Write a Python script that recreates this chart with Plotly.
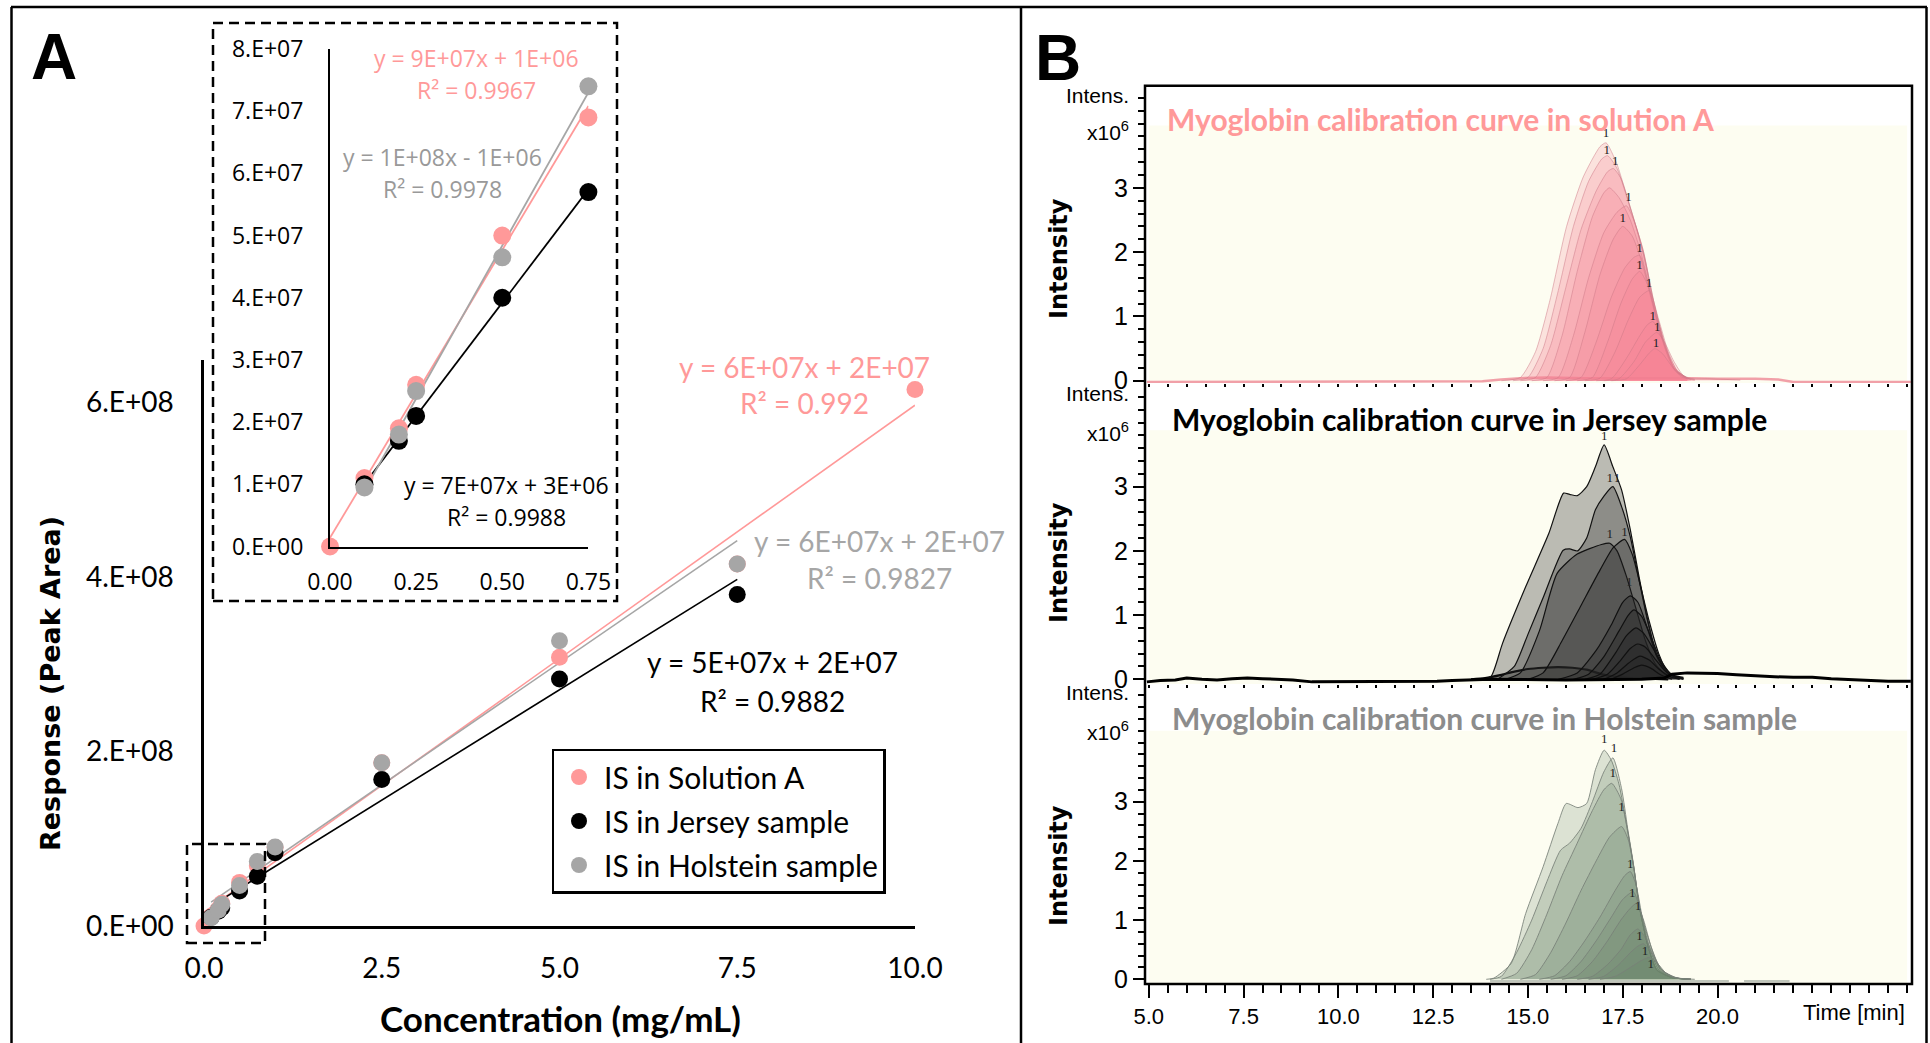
import numpy as np
import plotly.graph_objects as go

W, H = 1930, 1043
def px(x): return x / W
def py(y): return 1 - y / H

# ---------------- Panel A data ----------------
series_names = ["IS in Solution A", "IS in Jersey sample", "IS in Holstein sample"]
series_colors = ["#FF9999", "#000000", "#A6A6A6"]

conc_solution = [0.0, 0.1, 0.2, 0.25, 0.5, 0.75, 1.0, 2.5, 5.0, 7.5, 10.0]
area_solution = [0.0, 1.1e7, 1.9e7, 2.6e7, 5.0e7, 6.9e7, 9.0e7, 1.87e8, 3.08e8, 4.15e8, 6.15e8]
conc_jersey = [0.1, 0.2, 0.25, 0.5, 0.75, 1.0, 2.5, 5.0, 7.5]
area_jersey = [1.0e7, 1.7e7, 2.1e7, 4.0e7, 5.7e7, 8.4e7, 1.68e8, 2.83e8, 3.80e8]
conc_holstein = [0.1, 0.2, 0.25, 0.5, 0.75, 1.0, 2.5, 5.0, 7.5]
area_holstein = [0.95e7, 1.8e7, 2.5e7, 4.65e7, 7.4e7, 9.05e7, 1.87e8, 3.27e8, 4.15e8]

main_xticks = [0, 2.5, 5, 7.5, 10]
main_xticktext = ["0.0", "2.5", "5.0", "7.5", "10.0"]
main_yticks = [0, 2e8, 4e8, 6e8]
main_yticktext = ["0.E+00", "2.E+08", "4.E+08", "6.E+08"]
inset_xticks = [0, 0.25, 0.5, 0.75]
inset_xticktext = ["0.00", "0.25", "0.50", "0.75"]
inset_yticks = [0, 1e7, 2e7, 3e7, 4e7, 5e7, 6e7, 7e7, 8e7]
inset_yticktext = ["0.E+00", "1.E+07", "2.E+07", "3.E+07", "4.E+07",
                   "5.E+07", "6.E+07", "7.E+07", "8.E+07"]

main_eq_text = ["y = 6E+07x + 2E+07", "R² = 0.992",
                "y = 6E+07x + 2E+07", "R² = 0.9827",
                "y = 5E+07x + 2E+07", "R² = 0.9882"]
inset_eq_text = ["y = 9E+07x + 1E+06", "R² = 0.9967",
                 "y = 1E+08x - 1E+06", "R² = 0.9978",
                 "y = 7E+07x + 3E+06", "R² = 0.9988"]

# ---------------- Panel B data (chromatograms, time in min, intensity x10^6) ----------------
sola_t = [
    [14.3, 14.8, 15.2, 15.58, 16.02, 16.46, 16.9, 17.06, 17.34, 17.69, 18.04, 18.31, 18.57, 18.84, 19.19, 19.8, 20.6],
    [14.6, 15.0, 15.4, 15.8, 16.2, 16.6, 16.95, 17.1, 17.35, 17.7, 18.05, 18.3, 18.6, 18.85, 19.2],
    [14.8, 15.2, 15.6, 16.0, 16.4, 16.8, 17.1, 17.25, 17.45, 17.75, 18.05, 18.3, 18.6, 18.85, 19.2],
    [15.1, 15.5, 15.9, 16.3, 16.7, 17.0, 17.15, 17.4, 17.7, 18.0, 18.3, 18.6, 18.85, 19.2],
    [15.4, 15.8, 16.2, 16.6, 17.0, 17.35, 17.6, 17.85, 18.1, 18.35, 18.6, 18.85, 19.2],
    [15.7, 16.1, 16.5, 16.9, 17.25, 17.5, 17.75, 18.0, 18.3, 18.6, 18.85, 19.2],
    [16.0, 16.4, 16.8, 17.2, 17.55, 17.8, 17.95, 18.15, 18.4, 18.65, 18.9, 19.2],
    [16.3, 16.7, 17.1, 17.45, 17.75, 17.95, 18.15, 18.4, 18.65, 18.9, 19.2],
    [16.5, 16.9, 17.3, 17.65, 17.95, 18.2, 18.45, 18.7, 18.95, 19.25],
    [16.8, 17.2, 17.6, 17.95, 18.15, 18.3, 18.5, 18.75, 19.0, 19.3],
    [17.0, 17.4, 17.8, 18.1, 18.4, 18.6, 18.85, 19.1, 19.4],
    [17.2, 17.6, 17.95, 18.2, 18.35, 18.55, 18.8, 19.05, 19.4],
]
sola_i = [
    [0.0, 0.05, 0.45, 1.25, 2.4, 3.17, 3.64, 3.70, 3.38, 2.71, 2.03, 1.25, 0.63, 0.22, 0.04, 0.03, 0.01],
    [0.0, 0.05, 0.5, 1.4, 2.4, 3.1, 3.45, 3.5, 3.3, 2.68, 2.0, 1.25, 0.6, 0.2, 0.04],
    [0.0, 0.05, 0.55, 1.45, 2.35, 2.95, 3.25, 3.3, 3.15, 2.6, 1.95, 1.22, 0.58, 0.2, 0.04],
    [0.0, 0.05, 0.7, 1.7, 2.55, 2.92, 3.0, 2.85, 2.5, 1.95, 1.2, 0.56, 0.19, 0.03],
    [0.0, 0.05, 0.7, 1.6, 2.3, 2.62, 2.72, 2.4, 1.85, 1.15, 0.55, 0.18, 0.03],
    [0.0, 0.05, 0.75, 1.65, 2.2, 2.4, 2.25, 1.85, 1.15, 0.53, 0.17, 0.03],
    [0.0, 0.05, 0.6, 1.3, 1.75, 1.92, 1.95, 1.55, 0.95, 0.45, 0.15, 0.03],
    [0.0, 0.05, 0.6, 1.2, 1.58, 1.7, 1.5, 0.95, 0.45, 0.15, 0.03],
    [0.0, 0.04, 0.45, 0.95, 1.3, 1.4, 0.95, 0.45, 0.14, 0.03],
    [0.0, 0.03, 0.35, 0.7, 0.87, 0.92, 0.7, 0.35, 0.1, 0.02],
    [0.0, 0.03, 0.3, 0.6, 0.75, 0.6, 0.3, 0.08, 0.02],
    [0.0, 0.03, 0.25, 0.43, 0.5, 0.42, 0.22, 0.06, 0.01],
]
sola_lab_t = [17.06, 17.08, 17.3, 17.65, 17.5, 17.94, 17.94, 18.19, 18.29, 18.41, 18.38]
sola_lab_i = [3.84, 3.58, 3.40, 2.84, 2.52, 2.05, 1.79, 1.50, 0.99, 0.82, 0.57]
sola_base_t = [4.95, 8.0, 12.0, 13.8, 14.3, 14.8, 15.5, 16.5, 19.3, 20.0, 21.0, 21.6, 22.0, 25.1]
sola_base_i = [-0.02, -0.02, -0.02, -0.01, 0.02, 0.04, 0.05, 0.04, 0.04, 0.03, 0.03, 0.02, -0.02, -0.02]

jer_t = [
    [13.7, 14.02, 14.33, 14.94, 15.55, 15.94, 16.1, 16.3, 16.55, 16.78, 17.01, 17.24, 17.47, 17.7, 17.93, 18.16, 18.39, 18.7, 19.1],
    [14.2, 14.64, 15.0, 15.4, 15.93, 16.1, 16.31, 16.55, 16.78, 17.0, 17.24, 17.47, 17.7, 17.93, 18.16, 18.39, 18.7, 19.1],
    [14.4, 14.8, 15.3, 15.77, 16.3, 16.94, 17.16, 17.35, 17.6, 17.85, 18.1, 18.35, 18.65, 19.0],
    [15.0, 15.4, 15.9, 16.4, 16.9, 17.25, 17.55, 17.75, 17.95, 18.2, 18.45, 18.7, 19.0],
    [15.8, 16.3, 16.8, 17.2, 17.5, 17.7, 17.9, 18.15, 18.4, 18.7, 19.0],
    [16.2, 16.6, 17.0, 17.4, 17.65, 17.8, 18.0, 18.25, 18.5, 18.8, 19.1],
    [16.5, 16.9, 17.3, 17.6, 17.85, 18.05, 18.3, 18.55, 18.85, 19.1],
    [16.7, 17.1, 17.45, 17.7, 17.9, 18.1, 18.35, 18.6, 18.9, 19.1],
    [17.0, 17.35, 17.65, 17.95, 18.2, 18.45, 18.75, 19.0],
    [17.2, 17.5, 17.8, 18.0, 18.25, 18.5, 18.8],
]
jer_i = [
    [0.0, 0.04, 0.56, 1.44, 2.27, 2.90, 2.88, 2.86, 3.0, 3.31, 3.65, 3.31, 2.95, 2.33, 1.6, 0.92, 0.4, 0.09, 0.03],
    [0.0, 0.2, 0.7, 1.27, 2.01, 2.03, 2.0, 2.2, 2.64, 2.85, 3.0, 2.69, 2.22, 1.55, 0.9, 0.38, 0.08, 0.02],
    [0.0, 0.1, 0.75, 1.65, 1.95, 2.1, 2.12, 2.0, 1.6, 1.1, 0.6, 0.25, 0.06, 0.01],
    [0.0, 0.1, 0.6, 1.15, 1.7, 2.05, 2.18, 1.95, 1.5, 0.9, 0.4, 0.1, 0.02],
    [0.0, 0.1, 0.45, 0.85, 1.2, 1.3, 1.2, 0.8, 0.35, 0.08, 0.01],
    [0.0, 0.08, 0.35, 0.75, 1.0, 1.08, 0.98, 0.65, 0.3, 0.06, 0.01],
    [0.0, 0.08, 0.4, 0.68, 0.8, 0.72, 0.48, 0.22, 0.05, 0.01],
    [0.0, 0.08, 0.3, 0.48, 0.55, 0.5, 0.32, 0.14, 0.03, 0.0],
    [0.0, 0.1, 0.25, 0.36, 0.3, 0.16, 0.04, 0.0],
    [0.0, 0.08, 0.18, 0.22, 0.17, 0.07, 0.0],
]
jer_lab_t = [17.01, 17.16, 17.35, 17.16, 17.55, 17.67]
jer_lab_i = [3.78, 3.13, 3.13, 2.25, 2.28, 1.50]
jer_blank_t = [13.5, 13.87, 14.3, 14.64, 15.0, 15.4, 15.8, 16.17, 16.55, 16.94, 17.3, 17.7, 18.2, 18.7]
jer_blank_i = [0.0, 0.02, 0.07, 0.12, 0.16, 0.18, 0.19, 0.18, 0.15, 0.08, 0.04, 0.02, 0.01, 0.0]
jer_base_t = [4.95, 5.3, 5.7, 6.0, 6.4, 6.8, 7.2, 7.6, 8.0, 8.4, 8.8, 9.3, 10.0, 11.0, 12.0, 12.6, 13.0,
              13.5, 14.0, 16.0, 18.0, 18.6, 18.8, 19.2, 19.6, 20.0, 20.5, 21.0, 21.5, 22.0, 22.5, 23.0,
              23.5, 24.0, 24.5, 25.1]
jer_base_i = [-0.04, -0.02, -0.01, 0.02, 0.0, -0.01, 0.01, 0.02, 0.01, 0.0, -0.01, -0.04, -0.04, -0.04,
              -0.04, -0.03, -0.02, -0.01, 0.0, -0.01, 0.0, 0.02, 0.08, 0.1, 0.1, 0.09, 0.07, 0.05, 0.04,
              0.03, 0.03, 0.01, 0.0, -0.02, -0.03, -0.03]

hol_t = [
    [13.9, 14.1, 14.56, 14.94, 15.4, 15.79, 16.01, 16.32, 16.55, 16.78, 17.01, 17.2, 17.4, 17.6, 17.79, 17.94, 18.17, 18.4, 18.79, 19.4],
    [14.0, 14.3, 14.7, 15.1, 15.5, 15.86, 16.1, 16.4, 16.7, 17.0, 17.24, 17.47, 17.63, 17.79, 17.94, 18.17, 18.4, 18.79, 19.3],
    [14.3, 14.7, 15.1, 15.5, 15.9, 16.3, 16.7, 17.0, 17.21, 17.45, 17.63, 17.79, 17.94, 18.17, 18.4, 18.79, 19.3],
    [14.8, 15.2, 15.6, 16.0, 16.4, 16.8, 17.15, 17.47, 17.65, 17.8, 17.95, 18.17, 18.4, 18.8, 19.3],
    [15.3, 15.7, 16.1, 16.5, 16.9, 17.3, 17.55, 17.7, 17.85, 18.0, 18.2, 18.45, 18.8, 19.3],
    [15.6, 16.0, 16.4, 16.8, 17.2, 17.5, 17.78, 17.95, 18.1, 18.3, 18.5, 18.85, 19.3],
    [15.9, 16.3, 16.7, 17.1, 17.45, 17.7, 17.86, 18.05, 18.25, 18.5, 18.85, 19.3],
    [16.3, 16.7, 17.1, 17.45, 17.7, 17.9, 18.1, 18.3, 18.55, 18.9, 19.3],
    [16.6, 17.0, 17.4, 17.7, 17.9, 18.05, 18.25, 18.5, 18.85, 19.3],
    [16.9, 17.3, 17.7, 18.0, 18.2, 18.4, 18.65, 18.95, 19.3],
]
hol_i = [
    [0.0, 0.02, 0.27, 1.11, 1.9, 2.63, 2.97, 2.9, 2.97, 3.54, 3.87, 3.7, 3.3, 2.62, 1.9, 1.22, 0.55, 0.16, 0.03, 0.0],
    [0.0, 0.05, 0.45, 1.0, 1.65, 2.18, 2.3, 2.55, 3.0, 3.5, 3.74, 3.22, 2.55, 1.92, 1.23, 0.55, 0.16, 0.03, 0.0],
    [0.0, 0.1, 0.5, 1.1, 1.75, 2.3, 2.85, 3.2, 3.31, 3.05, 2.5, 1.9, 1.22, 0.55, 0.15, 0.03, 0.0],
    [0.0, 0.08, 0.45, 0.95, 1.5, 2.0, 2.4, 2.58, 2.35, 1.85, 1.2, 0.55, 0.16, 0.03, 0.0],
    [0.0, 0.06, 0.3, 0.65, 1.05, 1.5, 1.75, 1.82, 1.6, 1.1, 0.55, 0.16, 0.03, 0.0],
    [0.0, 0.06, 0.3, 0.65, 1.05, 1.35, 1.48, 1.2, 0.85, 0.45, 0.15, 0.03, 0.0],
    [0.0, 0.06, 0.3, 0.65, 1.0, 1.2, 1.28, 1.0, 0.55, 0.18, 0.03, 0.0],
    [0.0, 0.05, 0.25, 0.5, 0.75, 0.85, 0.7, 0.42, 0.15, 0.03, 0.0],
    [0.0, 0.05, 0.25, 0.45, 0.56, 0.6, 0.45, 0.17, 0.03, 0.0],
    [0.0, 0.05, 0.2, 0.32, 0.37, 0.28, 0.1, 0.02, 0.0],
]
hol_lab_t = [17.01, 17.27, 17.24, 17.47, 17.7, 17.75, 17.9, 17.94, 18.09, 18.24]
hol_lab_i = [4.04, 3.90, 3.48, 2.89, 1.93, 1.45, 1.23, 0.72, 0.47, 0.24]
hol_base_t = [14.0, 20.3, None, 20.7, 21.9]
hol_base_i = [-0.03, -0.03, None, -0.03, -0.03]

chrom_xticks = [5, 7.5, 10, 12.5, 15, 17.5, 20]
chrom_xticktext = ["5.0", "7.5", "10.0", "12.5", "15.0", "17.5", "20.0"]
chrom_yticks = [0, 1, 2, 3]
chrom_yticktext = ["0", "1", "2", "3"]
chrom_titles = ["Myoglobin calibration curve in solution A",
                "Myoglobin calibration curve in Jersey sample",
                "Myoglobin calibration curve in Holstein sample"]

# ---------------- fonts ----------------
CAL = "Lato, Carlito, sans-serif"
SEG = "Open Sans, sans-serif"
NAR = "Liberation Sans Narrow, Liberation Sans, Arial, sans-serif"
VER = "DejaVu Sans, Verdana, sans-serif"
ARI = "Liberation Sans, Arial, sans-serif"

fig = go.Figure()

def fit(xs, ys):
    k, b = np.polyfit(xs, ys, 1)
    xx = np.array([min(xs), max(xs)])
    return xx, k * xx + b

data_sets = [(conc_solution, area_solution), (conc_jersey, area_jersey), (conc_holstein, area_holstein)]

# Main chart trendlines + markers
for (cx, cy), col in zip(data_sets, series_colors):
    xx, yy = fit(cx, cy)
    fig.add_trace(go.Scatter(x=xx, y=yy, mode="lines", line=dict(color=col, width=1.6),
                             showlegend=False, hoverinfo="skip", xaxis="x", yaxis="y"))
for (cx, cy), col, nm in zip(data_sets, series_colors, series_names):
    fig.add_trace(go.Scatter(x=cx, y=cy, mode="markers", name=nm, legendgroup=nm,
                             marker=dict(color=col, size=17), cliponaxis=False,
                             xaxis="x", yaxis="y"))

# Inset
for (cx, cy), col in zip(data_sets, series_colors):
    sx = [a for a in cx if a <= 0.75]
    sy = [b for a, b in zip(cx, cy) if a <= 0.75]
    xx, yy = fit(sx, sy)
    fig.add_trace(go.Scatter(x=xx, y=yy, mode="lines", line=dict(color=col, width=1.8),
                             showlegend=False, hoverinfo="skip", xaxis="x2", yaxis="y2"))
for (cx, cy), col in zip(data_sets, series_colors):
    sx = [a for a in cx if a <= 0.75]
    sy = [b for a, b in zip(cx, cy) if a <= 0.75]
    fig.add_trace(go.Scatter(x=sx, y=sy, mode="markers", marker=dict(color=col, size=18),
                             cliponaxis=False, showlegend=False, xaxis="x2", yaxis="y2"))

# Panel B chromatograms
def add_chrom(ts, is_, fillc, linec, lw, ax, ay):
    for t, i in zip(ts, is_):
        fig.add_trace(go.Scatter(x=t, y=i, mode="lines", fill="tozeroy", fillcolor=fillc,
                                 line=dict(color=linec, width=lw, shape="spline", smoothing=0.6),
                                 showlegend=False, hoverinfo="skip", xaxis=ax, yaxis=ay))

lab_font = dict(family="Liberation Serif", size=13, color="#222222")

fig.add_trace(go.Scatter(x=sola_base_t, y=sola_base_i, mode="lines",
                         line=dict(color="rgba(240,150,160,0.9)", width=2.5),
                         showlegend=False, hoverinfo="skip", xaxis="x3", yaxis="y3"))
add_chrom(sola_t, sola_i, "rgba(246,128,148,0.21)", "rgba(205,120,135,0.55)", 0.9, "x3", "y3")
fig.add_trace(go.Scatter(x=sola_lab_t, y=sola_lab_i, mode="text", text=["1"] * len(sola_lab_t),
                         textfont=lab_font, showlegend=False, hoverinfo="skip", xaxis="x3", yaxis="y3"))

add_chrom([jer_blank_t], [jer_blank_i], "rgba(40,40,40,0.25)", "#000000", 2.2, "x4", "y4")
add_chrom(jer_t, jer_i, "rgba(35,35,35,0.30)", "#111111", 1.2, "x4", "y4")
fig.add_trace(go.Scatter(x=jer_base_t, y=jer_base_i, mode="lines",
                         line=dict(color="#000000", width=3),
                         showlegend=False, hoverinfo="skip", xaxis="x4", yaxis="y4"))
fig.add_trace(go.Scatter(x=jer_lab_t, y=jer_lab_i, mode="text", text=["1"] * len(jer_lab_t),
                         textfont=lab_font, showlegend=False, hoverinfo="skip", xaxis="x4", yaxis="y4"))

fig.add_trace(go.Scatter(x=hol_base_t, y=hol_base_i, mode="lines",
                         line=dict(color="rgba(150,160,150,0.6)", width=2),
                         showlegend=False, hoverinfo="skip", xaxis="x5", yaxis="y5"))
add_chrom(hol_t, hol_i, "rgba(105,130,105,0.22)", "rgba(120,128,120,0.85)", 1.0, "x5", "y5")
fig.add_trace(go.Scatter(x=hol_lab_t, y=hol_lab_i, mode="text", text=["1"] * len(hol_lab_t),
                         textfont=lab_font, showlegend=False, hoverinfo="skip", xaxis="x5", yaxis="y5"))

# ---------------- axes ----------------
common = dict(showgrid=False, zeroline=False, automargin=False)
layout = dict(
    width=W, height=H, margin=dict(l=0, r=0, t=0, b=0, pad=0, autoexpand=False),
    paper_bgcolor="white", plot_bgcolor="rgba(0,0,0,0)",
    xaxis=dict(domain=[px(204), px(915)], range=[0, 10], anchor="y", showline=True, linecolor="black",
               linewidth=2.5, tickvals=main_xticks, ticktext=main_xticktext, ticks="",
               ticklabelstandoff=16, tickfont=dict(family=CAL, size=28, color="black"), **common),
    yaxis=dict(domain=[py(926), py(360)], range=[0, 6e8 * 566 / 523.5], anchor="x", showline=True,
               linecolor="black", linewidth=2.5, tickvals=main_yticks, ticktext=main_yticktext, ticks="",
               ticklabelstandoff=22, tickfont=dict(family=CAL, size=28, color="black"), **common),
    xaxis2=dict(domain=[px(330), px(588.4)], range=[0, 0.75], anchor="y2", showline=True, linecolor="black",
                linewidth=2, tickvals=inset_xticks, ticktext=inset_xticktext, ticks="",
                ticklabelstandoff=14, tickfont=dict(family=SEG, size=23, color="black"), **common),
    yaxis2=dict(domain=[py(546.5), py(49)], range=[0, 8e7], anchor="x2", showline=True, linecolor="black",
                linewidth=2, tickvals=inset_yticks, ticktext=inset_yticktext, ticks="",
                ticklabelstandoff=20, tickfont=dict(family=SEG, size=23, color="black"), **common),
)

chrom_x_dom = [px(1145), px(1912)]
chrom_x_rng = [4.9, 25.13]
chrom_y = [("3", [py(383), py(85.7)], [(380.7 - 383) / 64.3, (380.7 - 85.7) / 64.3]),
           ("4", [py(684), py(386)], [(679.3 - 684) / 64.2, (679.3 - 386) / 64.2]),
           ("5", [py(984), py(686)], [(979.3 - 984) / 59.2, (979.3 - 686) / 59.2])]
for n, dom, rng in chrom_y:
    bottom = n == "5"
    if bottom:
        xt = dict(tickmode="array", tickvals=chrom_xticks, ticktext=chrom_xticktext, ticklen=13,
                  tickwidth=1.5, ticks="outside", tickcolor="black", showticklabels=True,
                  tickfont=dict(family=NAR, size=22, color="black"))
    else:
        xt = dict(tickmode="array", tickvals=[], ticks="outside", ticklen=3, showticklabels=False)
    layout["xaxis" + n] = dict(
        domain=chrom_x_dom, range=chrom_x_rng, anchor="y" + n, showline=False,
        minor=dict(tickmode="linear", tick0=5, dtick=0.5, ticks="outside",
                   ticklen=8 if bottom else 3, tickwidth=1.5 if bottom else 2, tickcolor="black"),
        **xt, **common)
    layout["yaxis" + n] = dict(
        domain=dom, range=rng, anchor="x" + n, showline=False,
        tickvals=chrom_yticks, ticktext=chrom_yticktext, ticks="outside", ticklen=11, tickwidth=1.5,
        tickcolor="black", tickfont=dict(family=NAR, size=25, color="black"),
        minor=dict(tickmode="linear", tick0=0, dtick=0.2, ticks="outside", ticklen=6,
                   tickwidth=1.5, tickcolor="black"),
        **common)

layout["legend"] = dict(x=px(551.5), y=py(748.5), xanchor="left", yanchor="top",
                        bgcolor="white", bordercolor="black", borderwidth=2.5,
                        font=dict(family=CAL, size=30, color="black"),
                        itemwidth=40, tracegroupgap=2)
fig.update_layout(**layout)

# ---------------- shapes ----------------
shapes = []
line_k = dict(color="black", width=2.5)
for x0, y0, x1, y1 in [(11, 7, 1927, 7), (11.5, 7, 11.5, 1043), (1926.5, 7, 1926.5, 1043),
                       (1021, 7, 1021, 1043)]:
    shapes.append(dict(type="line", xref="paper", yref="paper", x0=px(x0), y0=py(y0),
                       x1=px(x1), y1=py(y1), line=line_k))
dash_line = dict(color="black", width=2.5, dash="10px,6px")
# inset dashed frame
shapes.append(dict(type="rect", xref="paper", yref="paper", x0=px(213), y0=py(601), x1=px(617), y1=py(23),
                   line=dash_line))
# zoom region marker around the low-concentration points of the main chart
shapes.append(dict(type="rect", xref="paper", yref="paper", x0=px(187), y0=py(943), x1=px(265), y1=py(844),
                   line=dash_line))
# panel B yellow plot backgrounds
for n, top in [("3", 3.97), ("4", 3.88), ("5", 4.2)]:
    rng = [r for nn, d, r in chrom_y if nn == n][0]
    shapes.append(dict(type="rect", xref="x" + n, yref="y" + n, x0=5.0, x1=25.0, y0=rng[0], y1=top,
                       fillcolor="#FDFDF1", line=dict(width=0), layer="below"))
# panel B frame
shapes.append(dict(type="rect", xref="paper", yref="paper", x0=px(1145), y0=py(984), x1=px(1912),
                   y1=py(85.7), line=dict(color="black", width=2.5)))
fig.update_layout(shapes=shapes)

# ---------------- annotations ----------------
anns = []
def ann(text, x, y, size, color="black", family=CAL, weight="normal", xanchor="center", angle=0):
    anns.append(dict(text=text, x=px(x), y=py(y), xref="paper", yref="paper", showarrow=False,
                     xanchor=xanchor, yanchor="middle", textangle=angle,
                     font=dict(family=family, size=size, color=color, weight=weight)))

ann("A", 54, 57, 64, family=ARI, weight="bold")
ann("B", 1058, 58, 64, family=ARI, weight="bold")
ann("Response (Peak Area)", 50, 684, 27, family=VER, weight="bold", angle=-90)
ann("Concentration (mg/mL)", 560, 1018, 35, family=CAL, weight="bold")

main_eq_pos = [(804, 367), (804, 403), (879, 541), (879, 578), (772, 662), (772, 701)]
main_eq_col = ["#FF9999", "#FF9999", "#A6A6A6", "#A6A6A6", "black", "black"]
for t, (x, y), c in zip(main_eq_text, main_eq_pos, main_eq_col):
    ann(t, x, y, 28, color=c)

inset_eq_pos = [(476, 58), (476, 90), (442, 157), (442, 189), (506, 485), (506, 517)]
inset_eq_col = ["#FF9999", "#FF9999", "#999999", "#999999", "black", "black"]
for t, (x, y), c in zip(inset_eq_text, inset_eq_pos, inset_eq_col):
    ann(t, x, y, 23, color=c, family=SEG)

title_pos = [(1165, 119), (1170, 419), (1170, 718)]
title_col = ["#FF9999", "#000000", "#8C8C8C"]
for t, (x, y), c in zip(chrom_titles, title_pos, title_col):
    ann(t, x, y, 30, color=c, weight="bold", xanchor="left")

for yc in [259, 563, 866]:
    ann("Intensity", 1059, yc, 24, family=VER, weight="bold", angle=-90)
for yc in [95, 393, 692]:
    ann("Intens.", 1131, yc, 21, family=NAR, xanchor="right")
for yc in [131, 432, 731]:
    ann("x10<sup>6</sup>", 1131, yc, 21, family=NAR, xanchor="right")
ann("Time [min]", 1907, 1012, 22, family=NAR, xanchor="right")

fig.update_layout(annotations=anns)

fig.write_html("out.html", config={"displayModeBar": False},
               post_script="document.body.style.margin='0';document.body.style.overflow='hidden';")
